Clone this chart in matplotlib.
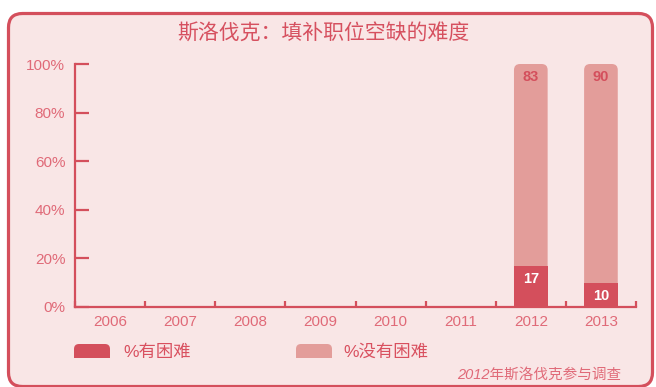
import numpy as np
import matplotlib
matplotlib.use('Agg')
import matplotlib.pyplot as plt
from matplotlib.patches import FancyBboxPatch, Rectangle

plt.rcParams['font.family'] = ['Liberation Sans', 'Noto Sans CJK SC', 'DejaVu Sans']

years = ['2006', '2007', '2008', '2009', '2010', '2011', '2012', '2013']
have_difficulty = [np.nan, np.nan, np.nan, np.nan, np.nan, np.nan, 17, 10]
no_difficulty = [np.nan, np.nan, np.nan, np.nan, np.nan, np.nan, 83, 90]
yticks = [0, 20, 40, 60, 80, 100]

title = '斯洛伐克：填补职位空缺的难度'
legend_labels = ['%有困难', '%没有困难']
note = '2012年斯洛伐克参与调查'

DARK = '#D44F5C'
LIGHT = '#E39D9A'
BG = '#F9E6E6'
TXT = '#E06A78'

W, H = 656, 387
fig = plt.figure(figsize=(W / 100, H / 100), dpi=100)
fig.patch.set_facecolor('white')

def px(x, y):
    # pixel position (from top-left) -> inches from bottom-left
    return x / 100, (H - y) / 100

# rounded outer frame
x0, y0 = px(8.5, 386.5)
x1, y1 = px(652.5, 13.5)
frame = FancyBboxPatch((x0, y0), x1 - x0, y1 - y0,
                       boxstyle='round,pad=0,rounding_size=0.14',
                       transform=fig.dpi_scale_trans, facecolor=BG,
                       edgecolor=DARK, linewidth=2.3, zorder=-2)
fig.patches.append(frame)

fig.text(323 / W, 1 - 33 / H, title, ha='center', va='center',
         fontsize=15, color='#D6505F')

ax = fig.add_axes([75 / W, (H - 307) / H, 561 / W, 243 / H])
ax.set_facecolor('none')
ax.set_xlim(-0.5, len(years) - 0.5)
ax.set_ylim(0, 100)

for s in ['top', 'right']:
    ax.spines[s].set_visible(False)
for s in ['left', 'bottom']:
    ax.spines[s].set_color(DARK)
    ax.spines[s].set_linewidth(1.6)

ax.set_yticks(yticks)
ax.set_yticklabels([f'{v}%' for v in yticks])
ax.tick_params(axis='y', direction='in', length=10, width=1.6, color=DARK,
               labelcolor=TXT, labelsize=11, pad=7)
ax.set_xticks(range(len(years)))
ax.set_xticklabels(years)
ax.tick_params(axis='x', which='major', length=0, labelcolor=TXT,
               labelsize=11, pad=6)
ax.set_xticks(np.arange(-0.5, len(years)), minor=True)
ax.tick_params(axis='x', which='minor', direction='in', length=4.5,
               width=1.6, color=DARK)

bw = 0.48
# corner radius ~6px; aspect corrects for data units per pixel
aspect = (6 / (243 / 100)) / (6 / (561 / len(years)))
for i, (h, n) in enumerate(zip(have_difficulty, no_difficulty)):
    if np.isnan(h) or np.isnan(n):
        continue
    top = FancyBboxPatch((i - bw / 2, 0), bw, h + n,
                         boxstyle=f'round,pad=0,rounding_size={6 / (561 / len(years))}',
                         mutation_aspect=aspect, facecolor=LIGHT,
                         edgecolor='none', zorder=2)
    ax.add_patch(top)
    ax.annotate(f'{n:.0f}', (i, h + n), xytext=(0, -9.5),
                textcoords='offset points', ha='center', va='center',
                fontsize=10.5, fontweight='bold', color=DARK, zorder=4)

ax.bar(range(len(years)), have_difficulty, width=bw, color=DARK, zorder=3)
for i, h in enumerate(have_difficulty):
    if np.isnan(h):
        continue
    ax.annotate(f'{h:.0f}', (i, h), xytext=(0, -9.5),
                textcoords='offset points', ha='center', va='center',
                fontsize=10.5, fontweight='bold', color='white', zorder=4)

# legend swatches with rounded tops
for (lx, tx), col, lab in zip([(74, 123), (296, 343)], [DARK, LIGHT], legend_labels):
    bx, by = px(lx, 358)
    sw = FancyBboxPatch((bx, by), 0.36, 0.14,
                        boxstyle='round,pad=0,rounding_size=0.05',
                        transform=fig.dpi_scale_trans, facecolor=col,
                        edgecolor='none', zorder=-1)
    fig.patches.append(sw)
    fig.patches.append(Rectangle((bx, by), 0.36, 0.07,
                                 transform=fig.dpi_scale_trans,
                                 facecolor=col, edgecolor='none', zorder=-1))
    fig.text(tx / W, 1 - 352 / H, lab, ha='left', va='center',
             fontsize=12.5, color='#D9505F')

fig.text(621 / W, 1 - 375 / H, note, ha='right', va='center',
         fontsize=10.5, style='italic', color=TXT)

fig.savefig('out.png', dpi=100)
